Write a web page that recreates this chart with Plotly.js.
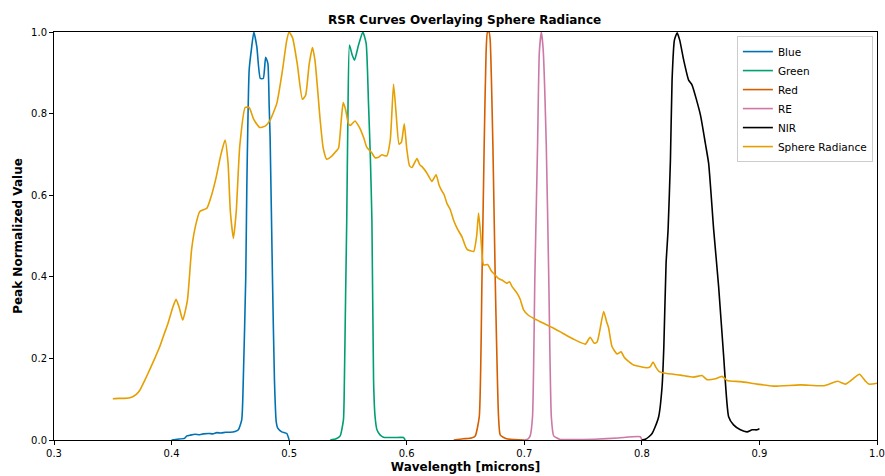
<!DOCTYPE html>
<html>
<head>
<meta charset="utf-8">
<script src="https://cdn.plot.ly/plotly-3.0.1.min.js"></script>
<style>html,body{margin:0;padding:0;background:#fff;}#chart{width:885px;height:476px;}</style>
</head>
<body>
<div id="chart"></div>
<script>
// ---- Data ----
const blueX = [0.400,0.405,0.411,0.413,0.416,0.420,0.424,0.427,0.432,0.435,0.4385,0.442,0.446,0.4498,0.454,0.4568,0.4597,0.461,0.4631,0.464,0.466,0.468,0.470,0.4725,0.4755,0.478,0.480,0.4819,0.483,0.4838,0.4858,0.4875,0.489,0.4903,0.4937,0.498,0.500];
const blueY = [0.000,0.002,0.004,0.010,0.012,0.014,0.013,0.015,0.016,0.015,0.018,0.017,0.019,0.019,0.021,0.025,0.050,0.147,0.400,0.620,0.907,0.960,1.000,0.964,0.886,0.886,0.938,0.923,0.820,0.743,0.400,0.147,0.045,0.029,0.020,0.016,0.000];

const greenX = [0.535,0.540,0.5434,0.5462,0.547,0.548,0.549,0.550,0.5513,0.5535,0.5556,0.559,0.5627,0.5655,0.5675,0.569,0.5704,0.5718,0.573,0.5747,0.5775,0.5803,0.590,0.5973,0.5987];
const greenY = [0.000,0.003,0.010,0.050,0.147,0.350,0.540,0.800,0.968,0.945,0.931,0.968,1.000,0.972,0.825,0.700,0.539,0.147,0.060,0.025,0.012,0.007,0.006,0.006,0.000];

const redX = [0.640,0.648,0.655,0.6583,0.6617,0.6640,0.6659,0.6675,0.6687,0.6700,0.6710,0.6733,0.6753,0.6781,0.6796,0.685,0.700];
const redY = [0.000,0.003,0.005,0.010,0.057,0.392,0.723,0.950,1.000,1.000,0.980,0.723,0.392,0.057,0.012,0.003,0.000];

const reX = [0.700,0.703,0.705,0.707,0.709,0.7113,0.7128,0.7145,0.716,0.7187,0.7208,0.723,0.725,0.730,0.740,0.760,0.780,0.7987,0.800];
const reY = [0.000,0.002,0.010,0.057,0.400,0.723,0.950,1.000,0.960,0.723,0.400,0.057,0.010,0.002,0.001,0.002,0.005,0.008,0.000];

const nirX = [0.800,0.803,0.806,0.8087,0.811,0.8143,0.8172,0.8187,0.8206,0.8223,0.8243,0.8257,0.8277,0.830,0.8322,0.8356,0.8398,0.8427,0.8498,0.854,0.8568,0.8611,0.8653,0.8696,0.8738,0.878,0.8838,0.8895,0.8938,0.898,0.900];
const nirY = [0.000,0.002,0.008,0.016,0.030,0.057,0.131,0.229,0.433,0.515,0.686,0.882,0.980,0.998,0.980,0.931,0.882,0.870,0.797,0.727,0.678,0.515,0.376,0.204,0.057,0.037,0.025,0.020,0.025,0.025,0.028];

const sphereX = [0.350,0.355,0.360,0.366,0.370,0.373,0.377,0.382,0.386,0.390,0.394,0.397,0.401,0.4038,0.4065,0.4095,0.4135,0.417,0.420,0.424,0.430,0.434,0.438,0.442,0.4455,0.448,0.450,0.4526,0.455,0.458,0.4626,0.466,0.470,0.475,0.480,0.4838,0.4895,0.494,0.498,0.500,0.503,0.507,0.5113,0.514,0.517,0.5198,0.522,0.5264,0.529,0.532,0.536,0.540,0.542,0.5445,0.546,0.548,0.5505,0.552,0.556,0.560,0.5635,0.5661,0.570,0.573,0.576,0.5789,0.583,0.586,0.5888,0.591,0.5935,0.5955,0.5979,0.600,0.6024,0.6045,0.6087,0.611,0.613,0.617,0.6214,0.625,0.6275,0.6294,0.632,0.6342,0.637,0.6398,0.643,0.6470,0.6495,0.6512,0.654,0.657,0.6595,0.6611,0.663,0.6654,0.6688,0.672,0.6753,0.678,0.681,0.6853,0.6875,0.6896,0.6938,0.6965,0.6994,0.703,0.708,0.7135,0.7193,0.725,0.7307,0.736,0.742,0.747,0.752,0.756,0.7595,0.7619,0.764,0.7675,0.770,0.7717,0.7746,0.7789,0.7823,0.785,0.7874,0.793,0.7987,0.8044,0.8072,0.8095,0.812,0.8151,0.8214,0.8328,0.844,0.8512,0.8554,0.8626,0.8682,0.8725,0.884,0.898,0.912,0.935,0.955,0.9666,0.9731,0.9788,0.9851,0.990,0.993,1.000];
const sphereY = [0.101,0.102,0.102,0.105,0.112,0.122,0.145,0.176,0.202,0.229,0.262,0.286,0.325,0.345,0.325,0.294,0.343,0.466,0.520,0.560,0.568,0.600,0.645,0.700,0.735,0.680,0.560,0.494,0.560,0.720,0.815,0.815,0.785,0.766,0.770,0.784,0.825,0.900,0.980,1.000,0.985,0.920,0.835,0.845,0.920,0.962,0.930,0.784,0.715,0.688,0.695,0.708,0.715,0.790,0.827,0.810,0.775,0.771,0.782,0.765,0.740,0.717,0.705,0.692,0.693,0.699,0.696,0.735,0.872,0.800,0.725,0.730,0.775,0.715,0.672,0.668,0.690,0.675,0.670,0.655,0.634,0.650,0.625,0.613,0.600,0.580,0.565,0.539,0.518,0.498,0.478,0.468,0.464,0.462,0.500,0.556,0.500,0.429,0.430,0.414,0.404,0.396,0.392,0.384,0.388,0.376,0.360,0.345,0.319,0.307,0.298,0.290,0.282,0.274,0.265,0.256,0.247,0.240,0.235,0.252,0.237,0.240,0.265,0.315,0.290,0.275,0.229,0.211,0.216,0.203,0.196,0.184,0.180,0.177,0.180,0.191,0.178,0.167,0.163,0.159,0.154,0.158,0.148,0.150,0.156,0.146,0.143,0.137,0.132,0.135,0.133,0.144,0.137,0.148,0.161,0.145,0.137,0.139];

const xTicks = [0.3,0.4,0.5,0.6,0.7,0.8,0.9,1.0];
const yTicks = [0.0,0.2,0.4,0.6,0.8,1.0];

const series = [
  {name:'Blue', x:blueX, y:blueY, color:'#0072B2'},
  {name:'Green', x:greenX, y:greenY, color:'#009E73'},
  {name:'Red', x:redX, y:redY, color:'#D55E00'},
  {name:'RE', x:reX, y:reY, color:'#CC79A7'},
  {name:'NIR', x:nirX, y:nirY, color:'#000000'},
  {name:'Sphere Radiance', x:sphereX, y:sphereY, color:'#E69F00'}
];

const traces = series.map(s => ({
  type:'scatter', mode:'lines', name:s.name, x:s.x, y:s.y,
  line:{color:s.color, width:1.6, shape:'spline', smoothing:0.5}
}));

const font = {family:'DejaVu Sans, sans-serif', color:'#000'};
const layout = {
  width:885, height:476,
  margin:{l:54, r:8, t:32, b:36},
  paper_bgcolor:'#fff', plot_bgcolor:'#fff',
  font:Object.assign({size:10}, font),
  title:{text:'<b>RSR Curves Overlaying Sphere Radiance</b>', font:Object.assign({size:12}, font), x:0.525, xanchor:'center', y:1-20/476, yanchor:'middle'},
  xaxis:{
    range:[0.3,1.0], tickvals:xTicks, tickformat:'.1f',
    showline:true, mirror:true, linecolor:'#000', linewidth:1,
    ticks:'outside', ticklen:4, tickcolor:'#000', showgrid:false, zeroline:false,
    tickfont:Object.assign({size:10}, font),
    title:{text:'<b>Wavelength [microns]</b>', font:Object.assign({size:12}, font), standoff:4}
  },
  yaxis:{
    range:[0,1.0], tickvals:yTicks, tickformat:'.1f',
    showline:true, mirror:true, linecolor:'#000', linewidth:1,
    ticks:'outside', ticklen:4, tickcolor:'#000', showgrid:false, zeroline:false,
    tickfont:Object.assign({size:10}, font),
    title:{text:'<b>Peak Normalized Value</b>', font:Object.assign({size:12}, font), standoff:5}
  },
  legend:{
    x:0.995, y:0.99, xanchor:'right', yanchor:'top',
    bgcolor:'rgba(255,255,255,0.9)', bordercolor:'#cccccc', borderwidth:1,
    font:Object.assign({size:10.5}, font), itemwidth:30, tracegroupgap:0
  },
  showlegend:true
};

Plotly.newPlot('chart', traces, layout, {displayModeBar:false, staticPlot:true});
</script>
</body>
</html>
